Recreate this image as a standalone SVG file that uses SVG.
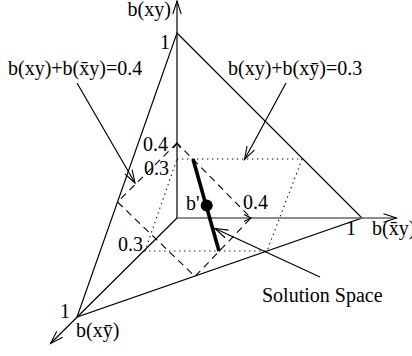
<svg xmlns="http://www.w3.org/2000/svg" width="412" height="356" viewBox="0 0 412 356">
<style>
text{font-family:"Liberation Serif","Times New Roman",serif;font-size:20px;fill:#000}
.s{stroke:#000;stroke-width:1.2;fill:none}
.d{stroke:#000;stroke-width:1.1;fill:none;stroke-dasharray:7,5}
.o{stroke:#000;stroke-width:1.1;fill:none;stroke-dasharray:1.3,3.7}
</style>
<defs>
<marker id="ah" viewBox="-14 -6 16 12" refX="0" refY="0" markerWidth="16" markerHeight="12" markerUnits="userSpaceOnUse" orient="auto">
<path d="M-13,-4.2 L0,0 L-13,4.2" fill="none" stroke="#000" stroke-width="1.1"/>
</marker>
</defs>
<g id="simplex">
<polygon class="s" points="177,33 362,218 77,317"/>
</g>
<g id="axes">
<line class="s" x1="177" y1="218" x2="177" y2="1" marker-end="url(#ah)"/>
<line x1="177" y1="218" x2="396.5" y2="218" stroke="#666" stroke-width="1.6" marker-end="url(#ah)"/>
<line class="s" x1="177" y1="218" x2="50.5" y2="343.5" marker-end="url(#ah)"/>
<polyline class="s" points="173.5,148 177,143 180.5,148"/>
<polyline class="s" points="244,214.5 251,218 244,221.5"/>
</g>
<g id="plane04">
<path class="d" d="M177,143 L117.5,202 L195,276.5 L251,218 Z"/>
</g>
<g id="plane03">
<path class="o" d="M177,159 L302,159 L267,251 L145,251 Z"/>
</g>
<g id="solution">
<line x1="193" y1="159" x2="219" y2="251" stroke="#000" stroke-width="3.6"/>
<circle cx="206.7" cy="205.5" r="6" fill="#000"/>
</g>
<g id="connectors">
<line class="s" x1="77" y1="83" x2="135" y2="183" marker-end="url(#ah)"/>
<line class="s" x1="286" y1="83" x2="244.5" y2="159.5" marker-end="url(#ah)"/>
<line class="s" x1="320" y1="277" x2="215" y2="228.5" marker-end="url(#ah)"/>
</g>
<g id="labels">
<text x="127.5" y="16">b(xy)</text>
<text x="160" y="49">1</text>
<text x="8" y="74.5">b(xy)+b(x̄y)=0.4</text>
<text x="228" y="74.5">b(xy)+b(xȳ)=0.3</text>
<text x="143" y="150.5">0.4</text>
<text x="144" y="174.5">0.3</text>
<text x="186" y="210">b'</text>
<text x="243" y="209">0.4</text>
<text x="118" y="251">0.3</text>
<text x="346" y="235">1</text>
<text x="372" y="235">b(x̄y)</text>
<text x="60" y="318">1</text>
<text x="76" y="337">b(xȳ)</text>
<text x="262" y="301.5">Solution Space</text>
</g>
</svg>
